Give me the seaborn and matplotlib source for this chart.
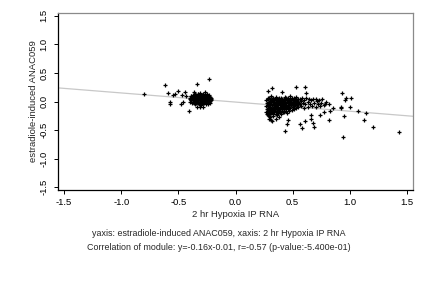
import matplotlib
matplotlib.use("Agg")
import matplotlib.pyplot as plt
import seaborn as sns
import pandas as pd

# ---- data ----
left_x = [-0.40, -0.39, -0.39, -0.38, -0.38, -0.37, -0.37, -0.36, -0.36, -0.35, -0.35, -0.35,
          -0.34, -0.34, -0.34, -0.33, -0.33, -0.33, -0.32, -0.32, -0.32, -0.31, -0.31, -0.31,
          -0.30, -0.30, -0.30, -0.29, -0.29, -0.29, -0.28, -0.28, -0.28, -0.27, -0.27, -0.27,
          -0.26, -0.26, -0.26, -0.25, -0.25, -0.25, -0.24, -0.24, -0.24, -0.23, -0.23, -0.23,
          -0.22, -0.22, -0.22, -0.21, -0.21, -0.36, -0.30, -0.28, -0.33, -0.25,
          -0.395, -0.395, -0.385, -0.385, -0.375, -0.375, -0.365, -0.365, -0.365,
          -0.355, -0.355, -0.355, -0.345, -0.345, -0.345, -0.335, -0.335,
          -0.325, -0.325, -0.325, -0.315, -0.315, -0.315, -0.305, -0.305,
          -0.295, -0.295, -0.295, -0.285, -0.285, -0.285, -0.275, -0.275, -0.275,
          -0.265, -0.265, -0.265, -0.255, -0.255, -0.245, -0.245, -0.245,
          -0.235, -0.235, -0.225, -0.225, -0.215,
          -0.80, -0.62, -0.59, -0.55, -0.53, -0.57, -0.57, -0.50, -0.47, -0.46, -0.48, -0.44,
          -0.43, -0.41, -0.36, -0.34, -0.23, -0.34, -0.31, -0.28]
left_y = [0.05, 0.02, 0.10, 0.07, -0.02, 0.04, 0.12, 0.00, 0.08, 0.03, 0.14, -0.05,
          0.06, 0.10, -0.01, 0.02, 0.08, 0.13, -0.04, 0.05, 0.11, 0.00, 0.07, 0.15,
          0.03, -0.06, 0.09, 0.01, 0.06, 0.12, -0.03, 0.04, 0.09, 0.00, 0.07, 0.16,
          0.02, -0.05, 0.10, 0.05, 0.13, -0.01, 0.03, 0.08, -0.04, 0.06, 0.00, 0.11,
          0.04, -0.02, 0.08, 0.02, 0.06, 0.05, 0.00, 0.12, -0.03, 0.09,
          0.07, 0.00, 0.03, 0.09, 0.00, 0.08, 0.03, 0.11, -0.03,
          0.06, 0.00, 0.10, 0.03, 0.12, -0.03, 0.05, 0.10,
          0.02, 0.08, 0.14, 0.04, -0.02, 0.11, 0.06, 0.12,
          -0.02, 0.04, 0.09, 0.01, 0.07, 0.14, 0.03, 0.10, -0.02,
          0.06, 0.00, 0.13, 0.02, 0.08, 0.05, 0.11, 0.00,
          0.03, 0.08, 0.01, 0.06, 0.04,
          0.13, 0.29, 0.15, 0.12, 0.13, 0.00, -0.04, 0.19, 0.12, -0.01, -0.04, 0.16,
          0.09, -0.16, 0.17, 0.31, 0.40, -0.10, -0.10, -0.10]

right_x = [0.27, 0.27, 0.27, 0.28, 0.28, 0.28, 0.28, 0.29, 0.29, 0.29, 0.30, 0.30, 0.30, 0.30,
           0.31, 0.31, 0.31, 0.31, 0.32, 0.32, 0.32, 0.33, 0.33, 0.33, 0.33, 0.34, 0.34, 0.34,
           0.35, 0.35, 0.35, 0.35, 0.36, 0.36, 0.36, 0.37, 0.37, 0.37, 0.38, 0.38, 0.38,
           0.39, 0.39, 0.39, 0.40, 0.40, 0.40, 0.41, 0.41, 0.41, 0.42, 0.42, 0.42,
           0.43, 0.43, 0.43, 0.44, 0.44, 0.44, 0.45, 0.45, 0.45, 0.46, 0.46, 0.46,
           0.47, 0.47, 0.47, 0.48, 0.48, 0.48, 0.49, 0.49, 0.49, 0.50, 0.50,
           0.51, 0.51, 0.51, 0.52, 0.52, 0.53, 0.53, 0.53, 0.54, 0.54, 0.55, 0.55, 0.56, 0.56,
           0.275, 0.275, 0.275, 0.285, 0.285, 0.285, 0.295, 0.295, 0.295,
           0.305, 0.305, 0.305, 0.315, 0.315, 0.315, 0.325, 0.325, 0.325,
           0.335, 0.335, 0.335, 0.345, 0.345, 0.345, 0.355, 0.355, 0.355,
           0.365, 0.365, 0.365, 0.375, 0.375, 0.375, 0.385, 0.385, 0.385,
           0.395, 0.395, 0.395, 0.405, 0.405, 0.405, 0.415, 0.415, 0.415,
           0.425, 0.425, 0.425, 0.435, 0.435, 0.445, 0.445, 0.445, 0.455, 0.455,
           0.465, 0.465, 0.475, 0.475, 0.485, 0.485, 0.495, 0.495, 0.505, 0.505,
           0.515, 0.515, 0.525, 0.525, 0.535, 0.535, 0.545, 0.545,
           0.57, 0.57, 0.58, 0.59, 0.60, 0.60, 0.61, 0.62, 0.63, 0.63, 0.64, 0.65, 0.66,
           0.67, 0.68, 0.69, 0.70, 0.71, 0.72, 0.73, 0.74, 0.75, 0.76, 0.77, 0.79,
           0.29, 0.31, 0.35, 0.38,
           0.28, 0.32, 0.41, 0.53, 0.61, 0.62, 0.32, 0.46, 0.45, 0.43, 0.56, 0.58, 0.61,
           0.66, 0.68, 0.69, 0.66, 0.74, 0.77, 0.82, 0.70, 0.78, 0.82, 0.85, 0.92, 0.93,
           0.96, 0.97, 1.01, 1.00, 0.95, 1.07, 1.14, 1.12, 1.20, 0.94, 1.43, 0.92, 0.83]
right_y = [0.02, -0.08, -0.18, 0.07, -0.03, -0.13, -0.24, 0.00, -0.10, -0.20, 0.05, -0.05, -0.15, -0.27,
           0.09, -0.01, -0.11, -0.21, 0.03, -0.07, -0.17, 0.06, -0.04, -0.14, -0.25, 0.00, -0.09, -0.19,
           0.08, -0.02, -0.12, -0.22, 0.04, -0.06, -0.16, 0.01, -0.09, -0.20, 0.07, -0.03, -0.13,
           0.03, -0.07, -0.17, 0.00, -0.10, -0.22, 0.05, -0.05, -0.14, 0.02, -0.08, -0.18,
           0.08, -0.01, -0.12, 0.04, -0.06, -0.16, 0.00, -0.10, -0.21, 0.06, -0.03, -0.13,
           0.02, -0.07, -0.17, 0.09, -0.01, -0.11, 0.04, -0.05, -0.15, 0.00, -0.09,
           0.06, -0.03, -0.13, 0.02, -0.07, 0.08, -0.02, -0.12, 0.03, -0.06, 0.00, -0.10, 0.05, -0.04,
           -0.03, -0.13, -0.22, 0.04, -0.06, -0.16, 0.07, -0.05, -0.25,
           0.00, -0.10, -0.20, 0.05, -0.06, -0.15, 0.01, -0.11, -0.22,
           0.03, -0.07, -0.17, 0.05, -0.05, -0.14, 0.02, -0.08, -0.18,
           -0.01, -0.11, -0.24, 0.05, -0.05, -0.15, 0.00, -0.09, -0.19,
           0.06, -0.02, -0.12, 0.03, -0.06, -0.16, 0.00, -0.10, -0.19,
           0.05, -0.04, -0.14, 0.02, -0.08, 0.06, -0.03, -0.11, 0.03, -0.06,
           0.00, -0.09, 0.05, -0.04, 0.02, -0.07, 0.06, -0.02, 0.03, -0.05,
           0.00, -0.08, 0.05, -0.03, 0.01, -0.06, 0.04, -0.02,
           0.01, -0.08, 0.06, -0.03, 0.03, -0.11, -0.05, 0.07, 0.00, -0.09, 0.04, -0.04, 0.02,
           -0.08, 0.05, -0.02, -0.10, 0.01, -0.05, 0.03, -0.08, -0.02, 0.04, -0.06, -0.01,
           -0.30, -0.33, -0.30, -0.28,
           0.19, 0.23, 0.16, 0.26, 0.26, 0.15, -0.34, -0.32, -0.39, -0.51, -0.40, -0.47, -0.35,
           -0.31, -0.38, -0.44, -0.24, -0.24, -0.19, -0.32, 0.05, -0.04, -0.04, -0.11, -0.12, 0.15,
           0.02, 0.06, 0.07, -0.09, -0.26, -0.16, -0.20, -0.33, -0.45, -0.62, -0.54, -0.10, -0.17]

fit_slope = -0.16
fit_intercept = -0.01

x_ticks = [-1.5, -1.0, -0.5, 0.0, 0.5, 1.0, 1.5]
y_ticks = [-1.5, -1.0, -0.5, 0.0, 0.5, 1.0, 1.5]
x_label = "2 hr Hypoxia IP RNA"
y_label = "estradiole-induced ANAC059"
caption1 = "yaxis: estradiole-induced ANAC059, xaxis: 2 hr Hypoxia IP RNA"
caption2 = "Correlation of module: y=-0.16x-0.01, r=-0.57 (p-value:-5.400e-01)"

df = pd.DataFrame({"x": left_x + right_x, "y": left_y + right_y})

# ---- plot ----
sns.set_style("white")
plt.rcParams["font.family"] = ["Liberation Sans", "DejaVu Sans"]

fig = plt.figure(figsize=(4.32, 2.88), dpi=100)
ax = fig.add_axes([58 / 432, 1 - 190 / 288, (413 - 58) / 432, (190 - 13) / 288])

ax.axline((0, fit_intercept), slope=fit_slope, color="#c8c8c8", lw=0.9, zorder=1)
sns.scatterplot(data=df, x="x", y="y", marker="+", color="black", s=11,
                linewidth=0.9, ax=ax, zorder=2, legend=False)

ax.set_xlim(-1.553, 1.553)
ax.set_ylim(-1.55, 1.55)
ax.set_xticks(x_ticks)
ax.set_yticks(y_ticks)
ax.set_xticklabels([f"{t:.1f}" for t in x_ticks])
ax.set_yticklabels([f"{t:.1f}" for t in y_ticks], rotation=90, va="center")
ax.tick_params(axis="both", direction="out", length=3, width=0.7, colors="black",
               labelsize=6.8, pad=3, left=True, bottom=True)
ax.tick_params(axis="y", pad=4)
ax.set_xlabel(x_label, fontsize=6.8, labelpad=2)
ax.set_ylabel(y_label, fontsize=6.8, labelpad=1)

for side in ["left", "bottom"]:
    ax.spines[side].set_color("black")
    ax.spines[side].set_linewidth(0.9)
for side in ["top", "right"]:
    ax.spines[side].set_color("#8a8a8a")
    ax.spines[side].set_linewidth(0.9)

cx = 219 / 432
fig.text(cx, 1 - 234 / 288, caption1, ha="center", va="center", fontsize=6.4)
fig.text(cx, 1 - 248 / 288, caption2, ha="center", va="center", fontsize=6.4)

fig.savefig("out.png", dpi=100)
